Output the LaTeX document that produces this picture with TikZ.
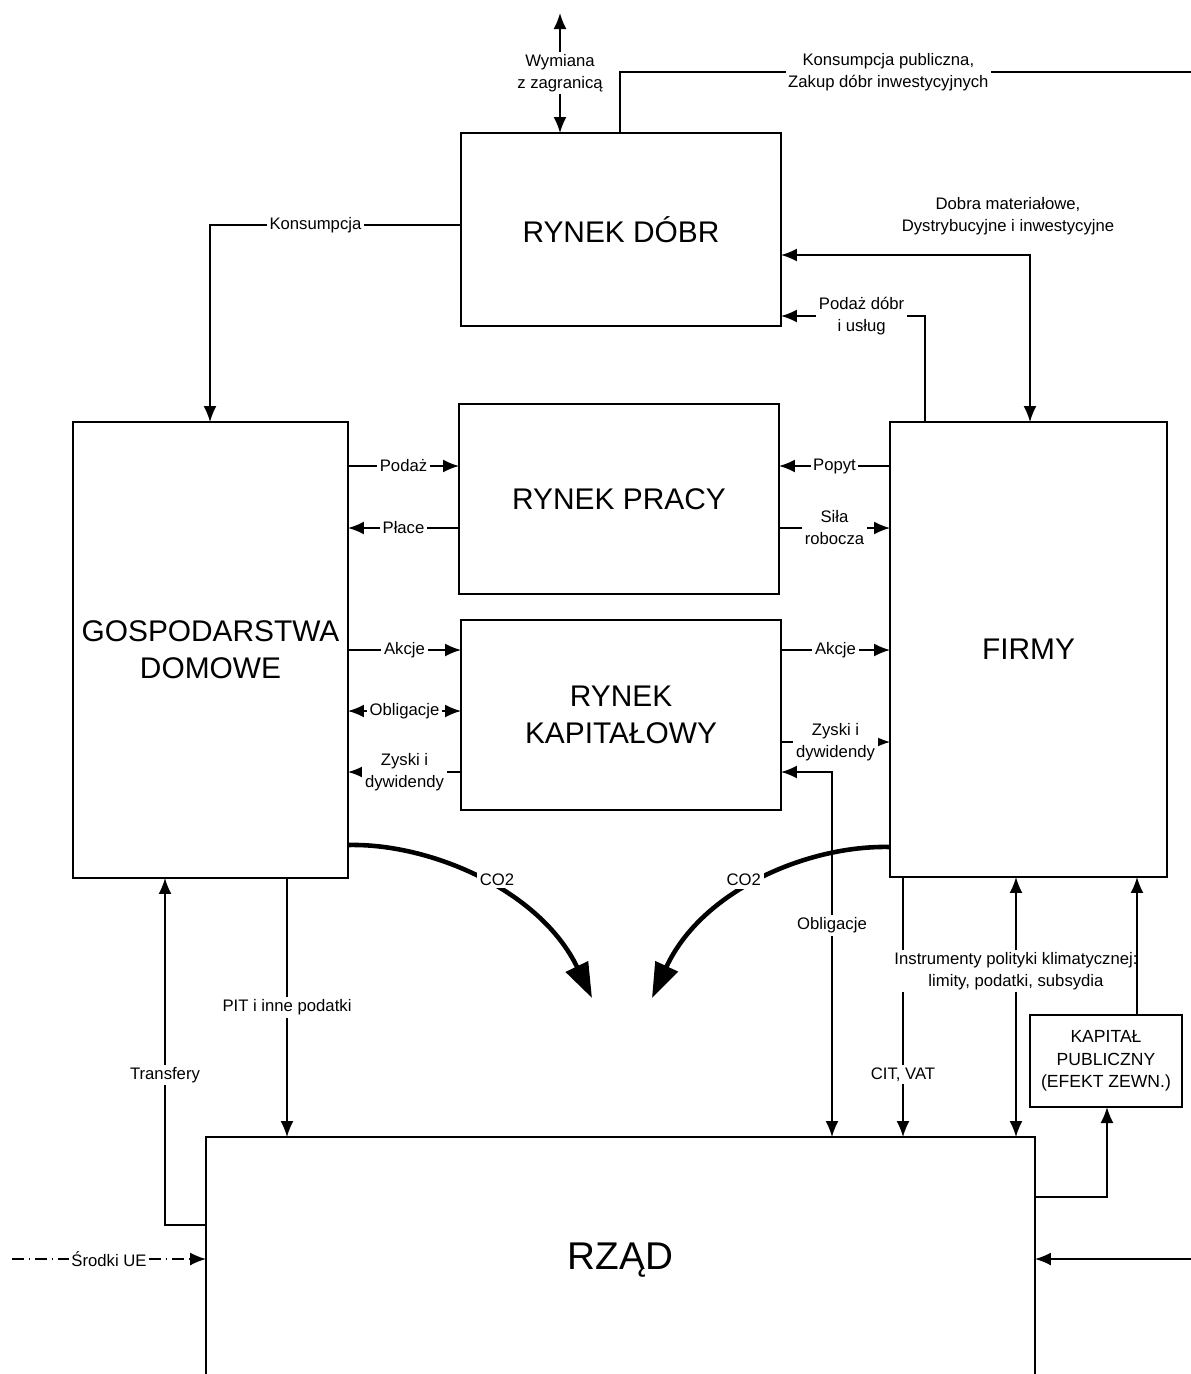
\documentclass[tikz,border=0pt]{standalone}
\usepackage{fontspec}
\setmainfont{Liberation Sans}
\usetikzlibrary{arrows.meta}

\begin{document}
\begin{tikzpicture}[x=0.02cm, y=-0.02cm,
    box/.style={draw, line width=1.1pt, inner sep=0pt, outer sep=0pt, align=center, font=\fontsize{17}{21}\selectfont},
    flow/.style={line width=1pt, -{Latex[length=3.2mm,width=2.6mm]}},
    both/.style={line width=1pt, {Latex[length=3.2mm,width=2.6mm]}-{Latex[length=3.2mm,width=2.6mm]}},
    plain/.style={line width=1pt},
    lbl/.style={fill=white, inner sep=1.5pt, align=center, font=\fontsize{9.5}{12.5}\selectfont},
    co2/.style={line width=2.6pt, -{Triangle[length=7mm,width=4.8mm]}}]
  \useasboundingbox (0,0) rectangle (1191,1374);
  \clip (0,0) rectangle (1191,1374);

  % markets and sectors
  \node[box, minimum width=6.4cm, minimum height=3.86cm] (dobr) at (621,229.5) {RYNEK DÓBR};
  \node[box, minimum width=6.4cm, minimum height=3.8cm] (pracy) at (619,499) {RYNEK PRACY};
  \node[box, minimum width=6.4cm, minimum height=3.8cm] (kapital) at (621,715) {RYNEK\\KAPITAŁOWY};
  \node[box, minimum width=5.5cm, minimum height=9.12cm] (gosp) at (210.5,650) {GOSPODARSTWA\\DOMOWE};
  \node[box, minimum width=5.54cm, minimum height=9.1cm] (firmy) at (1028.5,649.5) {FIRMY};
  \node[box, minimum width=16.58cm, minimum height=4.92cm, font=\fontsize{22}{26}\selectfont] (rzad) at (620.5,1260) {RZĄD};
  \node[box, minimum width=3.04cm, minimum height=1.84cm, font=\fontsize{10}{12.8}\selectfont] (kappub) at (1106,1061) {KAPITAŁ\\PUBLICZNY\\(EFEKT ZEWN.)};

  % goods market
  \coordinate (abroad) at (560,13);
  \coordinate (pubend) at (1191,72);
  \draw[both] (abroad) -- node[lbl]{Wymiana\\z zagranicą} (dobr.north -| abroad);
  \draw[plain] (dobr.north -| 620,0) -- (620,72) -- node[lbl, pos=0.47]{Konsumpcja publiczna,\\Zakup dóbr inwestycyjnych} (pubend);
  \draw[flow] (dobr.west |- 0,225) -| node[lbl, pos=0.29]{Konsumpcja} (gosp.north -| 210,0);
  \draw[both] (dobr.east |- 0,255) -| (firmy.north -| 1030,0);
  \node[lbl] (dobralbl) at (1008,216) {Dobra materiałowe,\\Dystrybucyjne i inwestycyjne};
  \draw[flow] (firmy.north -| 925,0) |- node[lbl, pos=0.72]{Podaż dóbr\\i usług} (dobr.east |- 0,316);

  % labour and capital markets
  \draw[flow] (gosp.east |- 0,466) -- node[lbl]{Podaż} (pracy.west |- 0,466);
  \draw[flow] (pracy.west |- 0,528) -- node[lbl]{Płace} (gosp.east |- 0,528);
  \draw[flow] (gosp.east |- 0,650) -- node[lbl]{Akcje} (kapital.west |- 0,650);
  \draw[both] (gosp.east |- 0,711) -- node[lbl]{Obligacje} (kapital.west |- 0,711);
  \draw[flow] (kapital.west |- 0,772) -- node[lbl]{Zyski i\\dywidendy} (gosp.east |- 0,772);
  \draw[flow] (firmy.west |- 0,466) -- node[lbl]{Popyt} (pracy.east |- 0,466);
  \draw[flow] (pracy.east |- 0,528) -- node[lbl]{Siła\\robocza} (firmy.west |- 0,528);
  \draw[flow] (kapital.east |- 0,650) -- node[lbl]{Akcje} (firmy.west |- 0,650);
  \draw[flow] (kapital.east |- 0,742) -- node[lbl]{Zyski i\\dywidendy} (firmy.west |- 0,742);
  \draw[both] (kapital.east |- 0,772) -| node[lbl, pos=0.71]{Obligacje} (rzad.north -| 832,0);

  % emissions
  \coordinate (co2l) at (592,998);
  \coordinate (co2r) at (652,998);
  \draw[co2] (gosp.east |- 0,845) .. controls (430,843) and (540,890) .. node[lbl, pos=0.56, yshift=6pt]{CO2} (co2l);
  \draw[co2] (firmy.west |- 0,847) .. controls (808,845) and (702,890) .. node[lbl, pos=0.56, yshift=6pt]{CO2} (co2r);

  % government
  \draw[flow] (gosp.south -| 287,0) -- node[lbl]{PIT i inne podatki} (rzad.north -| 287,0);
  \draw[flow] (rzad.west |- 0,1225) -| node[lbl, pos=0.716]{Transfery} (gosp.south -| 165,0);
  \draw[flow] (firmy.south -| 903,0) -- node[lbl, pos=0.76]{CIT, VAT} (rzad.north -| 903,0);
  \draw[both] (firmy.south -| 1016,0) -- (rzad.north -| 1016,0);
  \node[lbl] (instr) at (1016,971) {Instrumenty polityki klimatycznej:\\limity, podatki, subsydia};
  \draw[flow] (kappub.north -| 1137,0) -- (firmy.south -| 1137,0);
  \draw[flow] (rzad.east |- 0,1197) -| (kappub.south -| 1107,0);
  \coordinate (ue) at (12,1259);
  \coordinate (rin) at (1191,1259);
  \draw[flow, dash pattern=on 7pt off 2.5pt on 1pt off 2.5pt] (ue) -- node[lbl]{Środki UE} (rzad.west |- ue);
  \draw[flow] (rin) -- (rzad.east |- rin);
\end{tikzpicture}
\end{document}
